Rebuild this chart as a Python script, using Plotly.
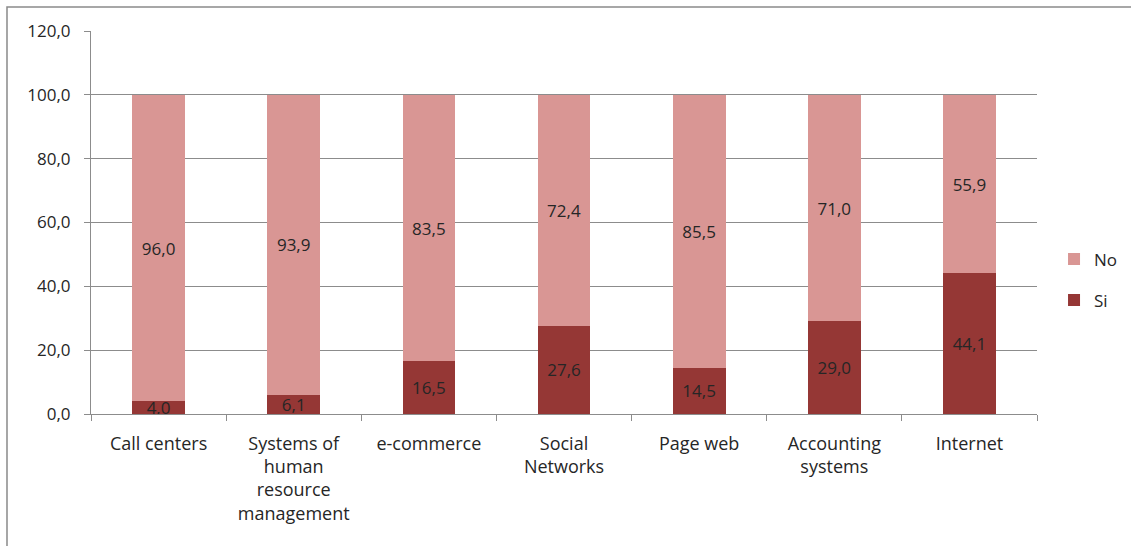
import plotly.graph_objects as go

categories = [
    "Call centers",
    "Systems of<br>human<br>resource<br>management",
    "e-commerce",
    "Social<br>Networks",
    "Page web",
    "Accounting<br>systems",
    "Internet",
]
si_values = [4.0, 6.1, 16.5, 27.6, 14.5, 29.0, 44.1]
no_values = [96.0, 93.9, 83.5, 72.4, 85.5, 71.0, 55.9]
y_ticks = [0, 20, 40, 60, 80, 100, 120]

FONT = "'Open Sans', Lato, Arial, sans-serif"
GRID = "#8c8c8c"
TEXT = "#262626"
LABEL_SIZE = 17

fig = go.Figure()
fig.add_trace(go.Bar(
    name="Si", x=categories, y=si_values, marker_color="#953735",
    marker_line_width=0, legendgroup="si", legendrank=2,
    text=[f"{v:.1f}".replace(".", ",") for v in si_values],
    textposition="inside", insidetextanchor="middle", constraintext="none",
    textfont=dict(size=LABEL_SIZE, color=TEXT, family=FONT),
    hoverinfo="skip",
))
fig.add_trace(go.Bar(
    name="No", x=categories, y=no_values, marker_color="#D99694",
    marker_line_width=0, legendgroup="no", legendrank=1,
    text=[f"{v:.1f}".replace(".", ",") for v in no_values],
    textposition="inside", insidetextanchor="middle", constraintext="none",
    textfont=dict(size=LABEL_SIZE, color=TEXT, family=FONT),
    hoverinfo="skip",
))

fig.update_layout(
    barmode="stack",
    bargap=0.61,
    width=1131, height=546,
    margin=dict(l=91, r=94, t=31, b=132, autoexpand=False),
    paper_bgcolor="white", plot_bgcolor="white",
    separators=",.",
    font=dict(family=FONT, size=LABEL_SIZE, color=TEXT),
    uniformtext=dict(minsize=LABEL_SIZE, mode="show"),
    showlegend=True,
    legend=dict(
        x=1.018, y=0.35, xanchor="left", yanchor="middle",
        traceorder="grouped", font=dict(size=17, color=TEXT),
        itemwidth=30, tracegroupgap=16,
        bgcolor="rgba(0,0,0,0)",
    ),
    xaxis=dict(
        showgrid=False, showline=True, linecolor=GRID, linewidth=1,
        ticks="outside", tickson="boundaries", ticklen=6, tickcolor=GRID,
        ticklabelstandoff=13,
        tickfont=dict(size=18, color=TEXT), fixedrange=True,
    ),
    yaxis=dict(
        range=[0, 120], tickvals=y_ticks, tickformat=".1f",
        showgrid=True, gridcolor=GRID, gridwidth=1,
        showline=True, linecolor=GRID, linewidth=1,
        ticks="outside", ticklen=6, tickcolor=GRID,
        ticklabelstandoff=10,
        tickfont=dict(size=17, color=TEXT), zeroline=False, fixedrange=True,
    ),
    shapes=[dict(
        type="rect", xref="paper", yref="paper",
        x0=-0.0888, x1=1.11, y0=-0.4, y1=1.0627,
        line=dict(color="#8a8a8a", width=1.5), fillcolor="rgba(0,0,0,0)",
        layer="below",
    )],
)

fig.write_html("out.html", config={"displayModeBar": False})
